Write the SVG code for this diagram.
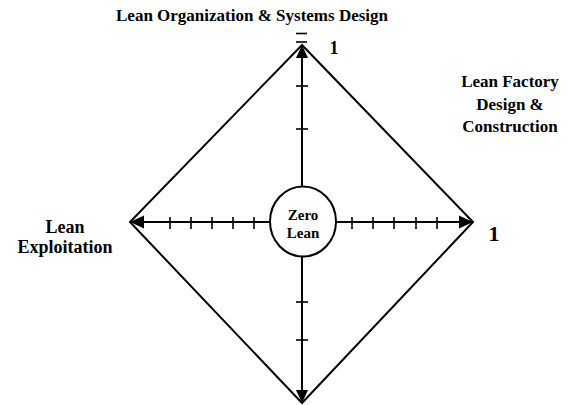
<svg xmlns="http://www.w3.org/2000/svg" width="575" height="405" viewBox="0 0 575 405">
<style>
.ln{stroke:#000;stroke-width:2;fill:none}
.tk{stroke:#000;stroke-width:1.6}
.t{font-family:"Liberation Serif","Times New Roman",serif;font-weight:bold;fill:#000;text-anchor:middle}
</style>
<rect width="575" height="405" fill="#fff"/>
<g id="connectors">
<polygon class="ln" points="302,45 473,222 302,403 130,222"/>
<line class="ln" x1="302" y1="55" x2="302" y2="187"/>
<line class="ln" x1="302" y1="256" x2="302" y2="392"/>
<line class="ln" x1="142" y1="222" x2="270" y2="222"/>
<line class="ln" x1="336" y1="222" x2="461" y2="222"/>
<polygon points="302,45 296,58 308,58" fill="#000"/>
<polygon points="302,403 296,390 308,390" fill="#000"/>
<polygon points="130,222 144,215.5 144,228.5" fill="#000"/>
<polygon points="473,222 459,215.5 459,228.5" fill="#000"/>
<g class="tk">
<line x1="296" y1="33.5" x2="307" y2="33.5"/>
<line x1="296" y1="42" x2="307" y2="42"/>
<line x1="296" y1="86" x2="308" y2="86"/>
<line x1="296" y1="129" x2="308" y2="129"/>
<line x1="296" y1="302" x2="308" y2="302"/>
<line x1="296" y1="340" x2="308" y2="340"/>
<line x1="170" y1="217" x2="170" y2="229"/>
<line x1="191" y1="217" x2="191" y2="229"/>
<line x1="212" y1="217" x2="212" y2="229"/>
<line x1="233" y1="217" x2="233" y2="229"/>
<line x1="254" y1="217" x2="254" y2="229"/>
<line x1="352" y1="217" x2="352" y2="229"/>
<line x1="373" y1="217" x2="373" y2="229"/>
<line x1="394" y1="217" x2="394" y2="229"/>
<line x1="416" y1="217" x2="416" y2="229"/>
<line x1="437" y1="217" x2="437" y2="229"/>
</g>
</g>
<g id="center">
<ellipse class="ln" cx="303" cy="221.5" rx="33" ry="35"/>
<text class="t" x="303" y="220" font-size="15">Zero</text>
<text class="t" x="303" y="238" font-size="15">Lean</text>
</g>
<g id="top-label">
<text class="t" x="252" y="21" font-size="17">Lean Organization &amp; Systems Design</text>
<text class="t" x="334" y="54" font-size="18">1</text>
</g>
<g id="right-label">
<text class="t" x="510" y="87" font-size="17">Lean Factory</text>
<text class="t" x="510" y="109.5" font-size="17">Design &amp;</text>
<text class="t" x="510" y="132" font-size="17">Construction</text>
<text class="t" x="494" y="241" font-size="22">1</text>
</g>
<g id="left-label">
<text class="t" x="65" y="232.5" font-size="18">Lean</text>
<text class="t" x="65" y="253" font-size="18">Exploitation</text>
</g>
</svg>
